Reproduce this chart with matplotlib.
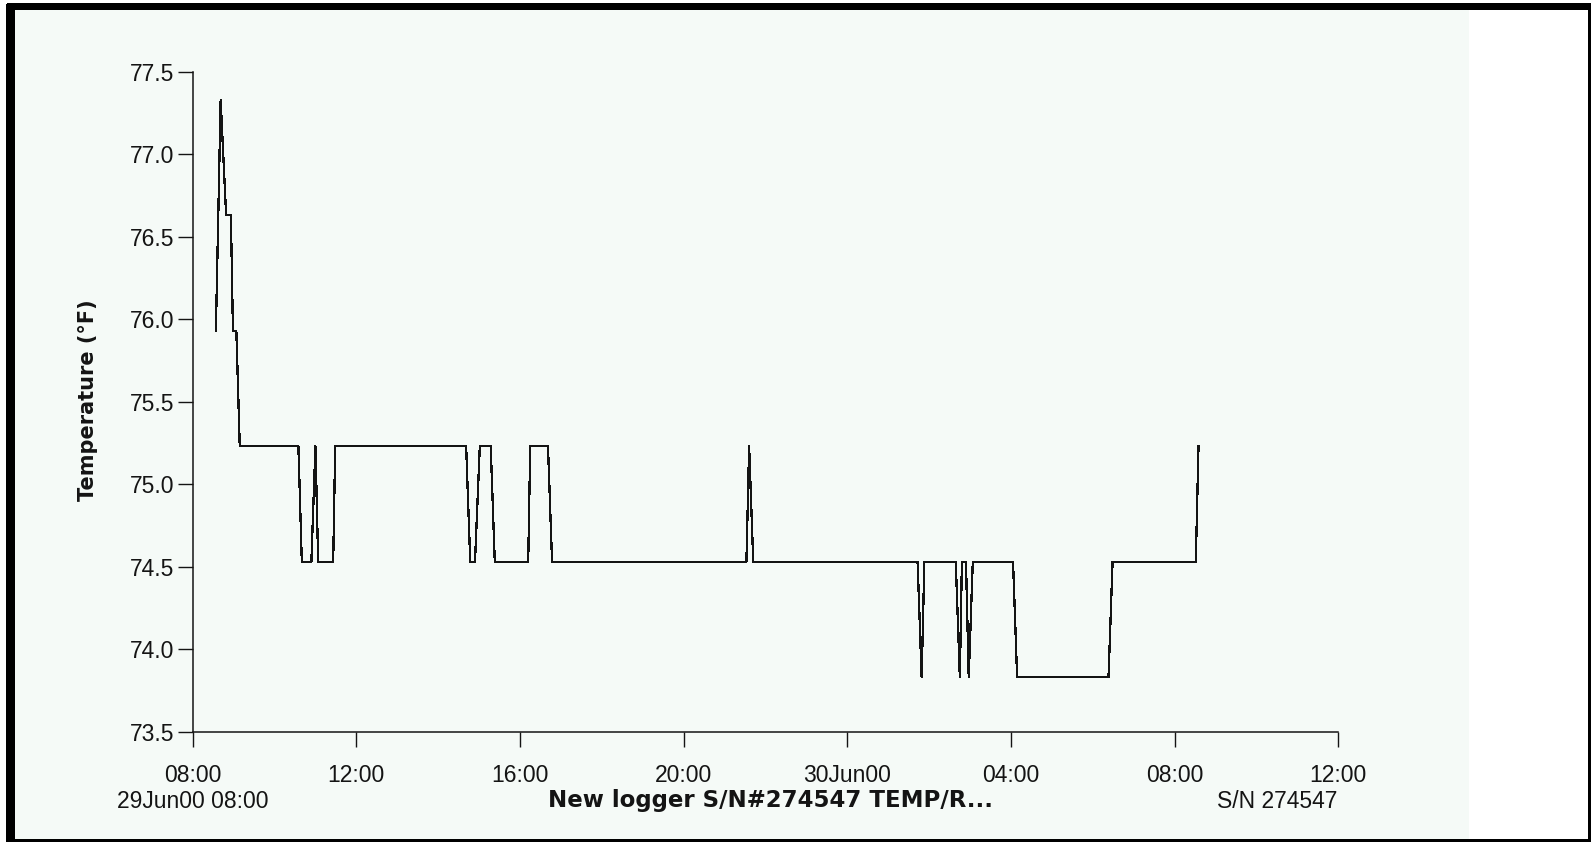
import matplotlib
matplotlib.use("Agg")
import matplotlib.pyplot as plt
from matplotlib.patches import Rectangle
import pandas as pd

# readings at each level change (logger S/N 274547)
times = [
    "2000-06-29 08:34", "2000-06-29 08:41", "2000-06-29 08:49", "2000-06-29 08:56",
    "2000-06-29 08:59", "2000-06-29 09:04", "2000-06-29 09:09", "2000-06-29 10:35",
    "2000-06-29 10:40", "2000-06-29 10:54", "2000-06-29 11:00", "2000-06-29 11:04",
    "2000-06-29 11:26", "2000-06-29 11:29", "2000-06-29 14:41", "2000-06-29 14:47",
    "2000-06-29 14:54", "2000-06-29 15:01", "2000-06-29 15:17", "2000-06-29 15:23",
    "2000-06-29 16:12", "2000-06-29 16:15", "2000-06-29 16:41", "2000-06-29 16:47",
    "2000-06-29 21:32", "2000-06-29 21:36", "2000-06-29 21:42", "2000-06-30 01:43",
    "2000-06-30 01:49", "2000-06-30 01:53", "2000-06-30 02:39", "2000-06-30 02:45",
    "2000-06-30 02:48", "2000-06-30 02:54", "2000-06-30 02:58", "2000-06-30 03:04",
    "2000-06-30 04:03", "2000-06-30 04:09", "2000-06-30 06:23", "2000-06-30 06:29",
    "2000-06-30 08:31", "2000-06-30 08:35",
]
temps = [
    75.93, 77.33, 76.63, 76.63, 75.93, 75.93, 75.23, 75.23,
    74.53, 74.53, 75.23, 74.53, 74.53, 75.23, 75.23, 74.53,
    74.53, 75.23, 75.23, 74.53, 74.53, 75.23, 75.23, 74.53,
    74.53, 75.23, 74.53, 74.53, 73.83, 74.53, 74.53, 73.83,
    74.53, 74.53, 73.83, 74.53, 74.53, 73.83, 73.83, 74.53,
    74.53, 75.23,
]
tick_times = ["2000-06-29 08:00", "2000-06-29 12:00", "2000-06-29 16:00", "2000-06-29 20:00",
              "2000-06-30 00:00", "2000-06-30 04:00", "2000-06-30 08:00", "2000-06-30 12:00"]
tick_labels = ["08:00", "12:00", "16:00", "20:00", "30Jun00", "04:00", "08:00", "12:00"]
y_ticks = [73.5, 74.0, 74.5, 75.0, 75.5, 76.0, 76.5, 77.0, 77.5]

W, H = 1591, 842
BG = "#f5faf7"
INK = "#141414"
plt.rcParams["font.family"] = ["Liberation Sans", "DejaVu Sans"]
BOLD = ["DejaVu Sans"]


def fx(x):
    return x / W


def fy(y):
    return 1 - y / H


fig = plt.figure(figsize=(W / 100, H / 100), dpi=100)
fig.patch.set_facecolor("white")

# panel background and frame
fig.add_artist(Rectangle((fx(11), fy(840)), fx(1469) - fx(11), fy(7) - fy(840),
                         transform=fig.transFigure, facecolor=BG, edgecolor="none", zorder=0))
frame = dict(transform=fig.transFigure, color="black", zorder=1, antialiased=False)
fig.add_artist(Rectangle((fx(7), fy(7.5)), 1 - fx(7), fy(4) - fy(7.5), **frame))
fig.add_artist(Rectangle((fx(7), 0), fx(10.5) - fx(7), fy(4), **frame))
fig.add_artist(Rectangle((fx(12), fy(840)), fx(1), fy(7) - fy(840), **frame))
fig.add_artist(Rectangle((fx(7), 0), 1 - fx(7), fy(840), **frame))
fig.add_artist(Rectangle((fx(1589), 0), fx(2), fy(4), **frame))

ax = fig.add_axes([fx(192.7), fy(731.7), fx(1338.3) - fx(192.7), fy(71.7) - fy(731.7)])
ax.patch.set_alpha(0)

t = pd.to_datetime(times)
ax.plot(t, temps, color=INK, linewidth=0.9, antialiased=False)

ax.set_xlim(pd.Timestamp(tick_times[0]), pd.Timestamp(tick_times[-1]))
ax.set_ylim(73.5, 77.5)
ax.set_xticks(pd.to_datetime(tick_times))
ax.set_xticklabels(tick_labels)
ax.set_yticks(y_ticks)
ax.set_yticklabels(["%.1f" % v for v in y_ticks])

for s in ["top", "right"]:
    ax.spines[s].set_visible(False)
for s in ["left", "bottom"]:
    ax.spines[s].set_linewidth(1.1)
    ax.spines[s].set_color(INK)
ax.tick_params(axis="both", direction="out", length=10.5, width=1.0, color=INK,
               labelsize=16.5, labelcolor=INK)
ax.tick_params(axis="y", pad=2.5)
ax.tick_params(axis="x", pad=13)

fig.text(fx(88), fy(400), "Temperature (°F)", rotation=90, ha="center", va="center",
         fontsize=15, fontweight="bold", color=INK, family=BOLD)
fig.text(fx(193), fy(801), "29Jun00 08:00", ha="center", va="center",
         fontsize=16.5, color=INK)
fig.text(fx(770), fy(801), "New logger S/N#274547 TEMP/R...", ha="center", va="center",
         fontsize=16.5, fontweight="bold", color=INK, family=BOLD)
fig.text(fx(1337.5), fy(801), "S/N 274547", ha="right", va="center",
         fontsize=16.5, color=INK)

fig.savefig("out.png", dpi=100, facecolor=fig.get_facecolor())
